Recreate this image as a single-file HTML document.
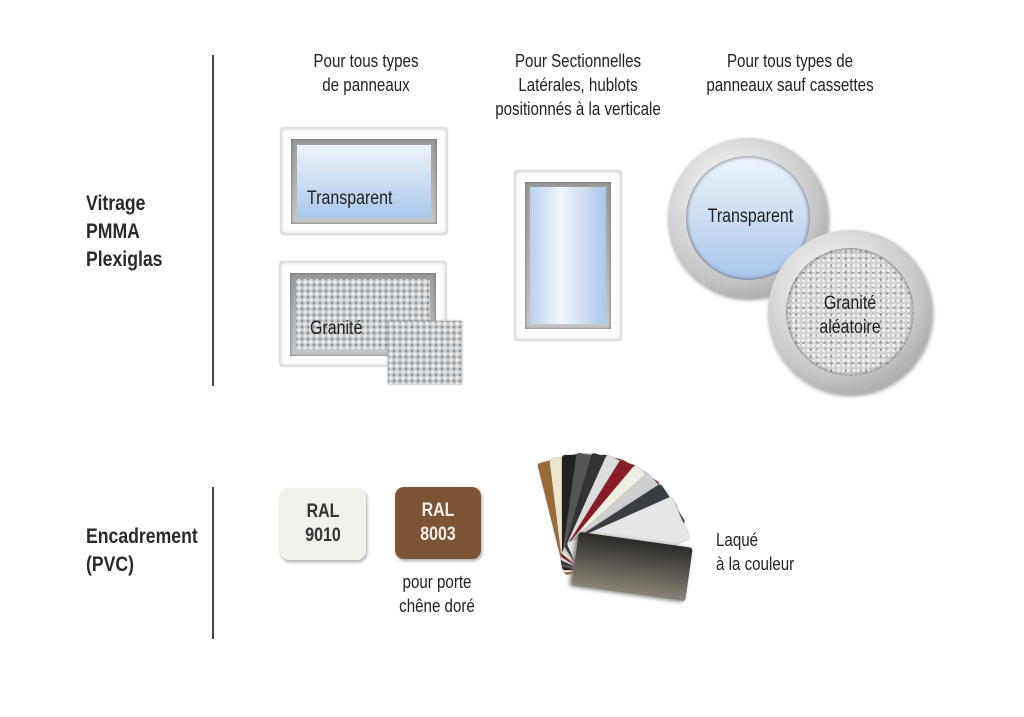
<!DOCTYPE html>
<html><head><meta charset="utf-8"><style>
body{margin:0;width:1024px;height:717px;background:#fff;position:relative;overflow:hidden;font-family:"Liberation Sans",sans-serif;color:#222}
.a{position:absolute}
.t{position:absolute;font-size:18px;line-height:24px;text-align:center;white-space:nowrap;transform:scaleX(0.84);transform-origin:50% 0}
.l{text-align:left;transform-origin:0 0}
.h{position:absolute;font-size:21px;font-weight:bold;line-height:28px;color:#2a2a2a;transform:scaleX(0.84);transform-origin:0 0;white-space:nowrap}
.vl{position:absolute;left:212px;width:2px;background:#444}
.win{position:absolute;background:#fff;box-shadow:0 0 2px #999, inset 0 0 4px #bbb;border-radius:2px}
.fr{position:absolute;background:linear-gradient(#9a9a9a,#c8c8c8);box-shadow:inset 0 0 3px #666}
.gl{position:absolute;background:linear-gradient(#eef4fb,#a9c8ea)}
.gr{position:absolute;background-color:#c9cdd0;background-image:radial-gradient(circle,#eef0f1 1.3px,transparent 1.8px),radial-gradient(circle,#8c9093 1px,transparent 1.6px);background-size:6px 6px,6px 6px;background-position:0 0,3px 3px}
.ral{position:absolute;width:86px;height:72px;border-radius:9px;box-shadow:1px 2px 3px #aaa}
.rt{position:absolute;width:86px;font-size:19px;font-weight:bold;line-height:24px;text-align:center;transform:scaleX(0.84);transform-origin:50% 0}
.card{position:absolute;left:562px;top:455px;width:46px;height:115px;transform-origin:23px 105px;border-radius:3px;box-shadow:0 0 1px #666}
</style></head><body>
<div class="vl" style="top:55px;height:331px"></div>
<div class="vl" style="top:487px;height:152px"></div>
<div class="h" style="left:86px;top:190px">Vitrage<br>PMMA<br>Plexiglas</div>
<div class="h" style="left:86px;top:523px">Encadrement<br>(PVC)</div>

<div class="t" style="left:266px;width:200px;top:49px">Pour tous types<br>de panneaux</div>
<div class="t" style="left:468px;width:220px;top:49px">Pour Sectionnelles<br>Latérales, hublots<br>positionnés à la verticale</div>
<div class="t" style="left:680px;width:220px;top:49px">Pour tous types de<br>panneaux sauf cassettes</div>

<div class="win" style="left:281px;top:128px;width:166px;height:106px"></div>
<div class="fr" style="left:291px;top:139px;width:146px;height:85px"></div>
<div class="gl" style="left:297px;top:145px;width:134px;height:73px"></div>
<div class="t l" style="left:307px;top:187px;font-size:19px">Transparent</div>

<div class="win" style="left:280px;top:262px;width:166px;height:104px"></div>
<div class="fr" style="left:290px;top:273px;width:146px;height:83px"></div>
<div class="gr" style="left:296px;top:279px;width:134px;height:71px"></div>
<div class="t l" style="left:310px;top:317px;font-size:19px">Granité</div>
<div class="gr" style="left:388px;top:321px;width:74px;height:63px;box-shadow:0 0 2px #888"></div>

<div class="win" style="left:515px;top:171px;width:106px;height:169px"></div>
<div class="fr" style="left:525px;top:182px;width:86px;height:147px"></div>
<div class="gl" style="left:530px;top:187px;width:76px;height:137px;background:linear-gradient(90deg,#b9d1ee,#f2f6fb 40%,#a9c8ea)"></div>

<div class="a" style="left:668px;top:138px;width:160px;height:160px;border-radius:50%;background:radial-gradient(circle at 40% 35%,#fff,#c6c6c6 60%,#8a8a8a);box-shadow:1px 2px 4px #999"></div>
<div class="a" style="left:686px;top:156px;width:124px;height:124px;border-radius:50%;background:linear-gradient(#eef4fb,#a8c6ea);box-shadow:inset 0 0 4px #555"></div>
<div class="t" style="left:700px;top:205px;width:96px;font-size:19px">Transparent</div>

<div class="a" style="left:768px;top:230px;width:164px;height:164px;border-radius:50%;background:radial-gradient(circle at 40% 35%,#fff,#c6c6c6 60%,#8a8a8a);box-shadow:1px 2px 4px #999"></div>
<div class="a" style="left:786px;top:248px;width:128px;height:128px;border-radius:50%;background-color:#d0d2d4;background-image:radial-gradient(circle,#f4f4f4 1.2px,transparent 1.8px),radial-gradient(circle,#8f9294 1px,transparent 1.5px);background-size:5px 5px,7px 7px;box-shadow:inset 0 0 5px #555"></div>
<div class="t" style="left:800px;top:292px;width:100px;font-size:19px">Granité<br>aléatoire</div>

<div class="ral" style="left:280px;top:488px;background:#f1f1ec"></div>
<div class="rt" style="left:280px;top:500px;color:#333">RAL<br>9010</div>
<div class="ral" style="left:395px;top:487px;background:#7a5434"></div>
<div class="rt" style="left:395px;top:499px;color:#f3ede4">RAL<br>8003</div>
<div class="t" style="left:387px;top:570px;width:100px">pour porte<br>chêne doré</div>

<div class="card" style="transform:rotate(-14deg);background:#9a6a34"></div>
<div class="card" style="transform:rotate(-7deg);background:#ece6cf"></div>
<div class="card" style="transform:rotate(0deg);background:#222"></div>
<div class="card" style="transform:rotate(8deg);background:#555"></div>
<div class="card" style="transform:rotate(16deg);background:#333"></div>
<div class="card" style="transform:rotate(24deg);background:#ddd"></div>
<div class="card" style="transform:rotate(32deg);background:#8a1c25"></div>
<div class="card" style="transform:rotate(40deg);background:#efeee2"></div>
<div class="card" style="transform:rotate(48deg);background:#cfcfcf"></div>
<div class="card" style="transform:rotate(57deg);background:#3a3d42"></div>
<div class="card" style="transform:rotate(66deg);background:#e6e6e6"></div>
<div class="card" style="transform:rotate(98deg);width:54px;transform-origin:27px 105px;left:558px;background:linear-gradient(90deg,#2b2a28,#8a8378);box-shadow:1px 2px 4px #777"></div>
<div class="t l" style="left:716px;top:528px">Laqué<br>à la couleur</div>
</body></html>
